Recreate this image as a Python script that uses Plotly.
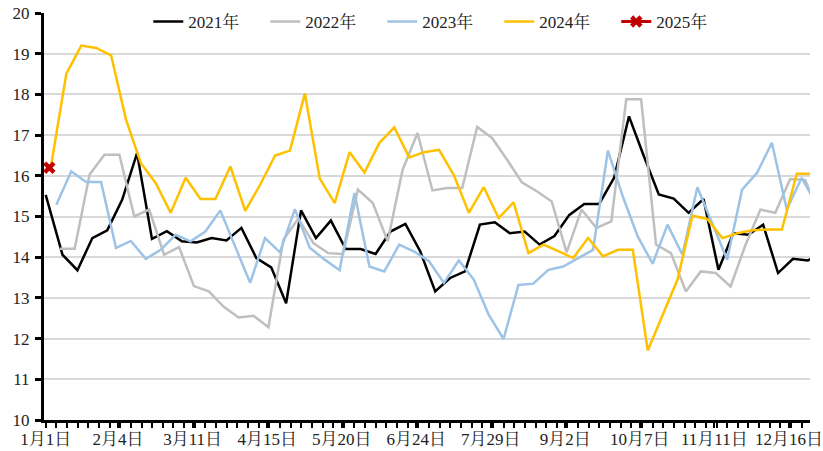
import plotly.graph_objects as go

# ---- data ----
tick_days = [0, 34, 69, 104, 139, 174, 209, 244, 279, 314, 349]
tick_labels = ["1月1日", "2月4日", "3月11日", "4月15日", "5月20日", "6月24日",
               "7月29日", "9月2日", "10月7日", "11月11日", "12月16日"]

series_names = ["2021年", "2022年", "2023年", "2024年", "2025年"]

# day-of-year of the first weekly observation for each year
first_day_2021 = 0.0
second_day_2021 = 7.9
start_day_2022 = 6.6
start_day_2023 = 5.0
start_day_2024 = 2.7
start_day_2025 = 1.7

v2021 = [15.53, 14.06, 13.68, 14.47, 14.66, 15.41, 16.56, 14.45, 14.64, 14.39,
         14.36, 14.47, 14.41, 14.72, 13.98, 13.75, 12.87, 15.15, 14.47, 14.90,
         14.20, 14.20, 14.08, 14.63, 14.82, 14.14, 13.16, 13.49, 13.65, 14.80,
         14.86, 14.59, 14.63, 14.31, 14.52, 15.04, 15.31, 15.31, 15.95, 17.46,
         16.48, 15.54, 15.44, 15.09, 15.43, 13.69, 14.59, 14.55, 14.80, 13.61,
         13.96, 13.92, 14.10]

v2022 = [14.21, 14.21, 16.03, 16.52, 16.52, 15.00, 15.17, 14.06, 14.25, 13.29,
         13.16, 12.78, 12.52, 12.56, 12.28, 14.43, 14.95, 14.35, 14.10, 14.08,
         15.66, 15.33, 14.39, 16.15, 17.05, 15.64, 15.70, 15.70, 17.20, 16.93,
         16.40, 15.84, 15.62, 15.37, 14.12, 15.17, 14.72, 14.88, 17.88, 17.88,
         14.31, 14.10, 13.16, 13.65, 13.61, 13.28, 14.30, 15.17, 15.09, 15.92,
         15.90, 15.00]

v2023 = [15.29, 16.11, 15.85, 15.85, 14.23, 14.40, 13.96, 14.18, 14.55, 14.39,
         14.63, 15.15, 14.26, 13.37, 14.47, 14.12, 15.18, 14.23, 13.94, 13.68,
         15.58, 13.77, 13.65, 14.31, 14.14, 13.90, 13.37, 13.92, 13.45, 12.59,
         11.99, 13.32, 13.35, 13.69, 13.77, 13.98, 14.18, 16.62, 15.49, 14.51,
         13.84, 14.80, 14.06, 15.72, 14.83, 13.94, 15.66, 16.07, 16.81, 15.17,
         15.95, 15.30]

v2024 = [16.31, 18.51, 19.20, 19.14, 18.96, 17.38, 16.31, 15.82, 15.09, 15.95,
         15.43, 15.43, 16.23, 15.14, 15.78, 16.50, 16.62, 18.02, 15.93, 15.33,
         16.58, 16.08, 16.81, 17.19, 16.45, 16.58, 16.64, 16.01, 15.09, 15.72,
         14.96, 15.35, 14.10, 14.31, 14.15, 13.98, 14.47, 14.02, 14.18, 14.18,
         11.71, 12.59, 13.45, 15.02, 14.94, 14.47, 14.59, 14.66, 14.68, 14.68,
         16.05, 16.05]

v2025 = [16.20]

# ---- x positions (day of year) derived from the start days ----
x2021 = [first_day_2021] + [second_day_2021 + 7 * i for i in range(len(v2021) - 1)]
x2022 = [start_day_2022 + 7 * i for i in range(len(v2022))]
x2023 = [start_day_2023 + 7 * i for i in range(len(v2023))]
x2024 = [start_day_2024 + 7 * i for i in range(len(v2024))]
x2025 = [start_day_2025 + 7 * i for i in range(len(v2025))]

colors = ["#000000", "#bfbfbf", "#9dc3e6", "#ffc000", "#c00000"]
FONT = "Liberation Serif, 'Noto Serif CJK SC', 'Noto Sans CJK SC', serif"
FS = 17

fig = go.Figure()
for name, xs, ys, col in zip(series_names[:4], [x2021, x2022, x2023, x2024],
                             [v2021, v2022, v2023, v2024], colors[:4]):
    fig.add_trace(go.Scatter(x=xs, y=ys, name=name, mode="lines",
                             line=dict(color=col, width=2.5)))

fig.add_trace(go.Scatter(x=x2025, y=v2025, name=series_names[4], mode="lines+markers",
                         line=dict(color=colors[4], width=3),
                         marker=dict(symbol="x", size=11, color=colors[4]),
                         cliponaxis=False))

fig.update_layout(
    width=823, height=451,
    margin=dict(l=44, r=0, t=13, b=31),
    paper_bgcolor="white", plot_bgcolor="white",
    font=dict(family=FONT, size=FS, color="#222222"),
    showlegend=True,
    legend=dict(orientation="h", x=0.518, xanchor="center", y=0.978, yanchor="middle",
                font=dict(family=FONT, size=FS, color="#222222"),
                bgcolor="rgba(255,255,255,0)", entrywidth=72, entrywidthmode="pixels",
                tracegroupgap=0),
)

fig.update_xaxes(
    range=[-0.8, 358.9],
    tickmode="array", tickvals=tick_days, ticktext=tick_labels,
    ticks="outside", ticklen=5, tickwidth=2, tickcolor="black",
    showline=True, linecolor="black", linewidth=3,
    showgrid=False, zeroline=False,
    minor=dict(tick0=0, dtick=5, ticks="outside", ticklen=5, tickwidth=2,
               tickcolor="black", showgrid=False),
    tickfont=dict(family=FONT, size=FS, color="#222222"),
    ticklabeloverflow="allow", ticklabelstandoff=-3,
)

fig.update_yaxes(
    range=[10, 20], dtick=1, tick0=10,
    ticks="outside", ticklen=6, tickwidth=3, tickcolor="black",
    showline=True, linecolor="black", linewidth=3,
    showgrid=True, gridcolor="#d9d9d9", gridwidth=1.5,
    zeroline=False, ticklabelstandoff=2,
    tickfont=dict(family=FONT, size=FS, color="#222222"),
)

# remove the default page margin so the 823x451 figure fills the window exactly
fig.write_html("out.html", config={"displayModeBar": False},
               post_script="document.body.style.margin='0px';")
